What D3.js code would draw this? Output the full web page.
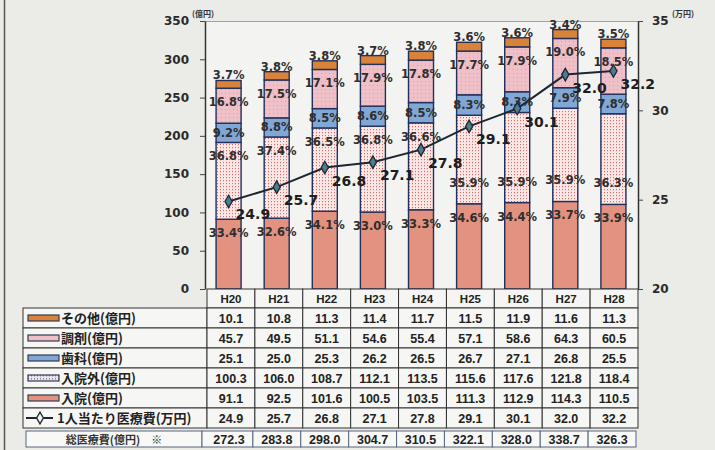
<!DOCTYPE html>
<html><head><meta charset="utf-8">
<script src="https://cdn.jsdelivr.net/npm/d3@7"></script>
<style>
html,body{margin:0;padding:0;background:#ebebe8;}
svg{display:block;}
</style></head>
<body><svg id="c" width="715" height="450"></svg>
<script>
const years = ["H20","H21","H22","H23","H24","H25","H26","H27","H28"];
const nyuin    = [91.1, 92.5, 101.6, 100.5, 103.5, 111.3, 112.9, 114.3, 110.5];
const nyuingai = [100.3, 106.0, 108.7, 112.1, 113.5, 115.6, 117.6, 121.8, 118.4];
const shika    = [25.1, 25.0, 25.3, 26.2, 26.5, 26.7, 27.1, 26.8, 25.5];
const chozai   = [45.7, 49.5, 51.1, 54.6, 55.4, 57.1, 58.6, 64.3, 60.5];
const sonota   = [10.1, 10.8, 11.3, 11.4, 11.7, 11.5, 11.9, 11.6, 11.3];
const perCapita = [24.9, 25.7, 26.8, 27.1, 27.8, 29.1, 30.1, 32.0, 32.2];
const totals   = [272.3, 283.8, 298.0, 304.7, 310.5, 322.1, 328.0, 338.7, 326.3];

const pctNyuin    = ["33.4%","32.6%","34.1%","33.0%","33.3%","34.6%","34.4%","33.7%","33.9%"];
const pctNyuingai = ["36.8%","37.4%","36.5%","36.8%","36.6%","35.9%","35.9%","35.9%","36.3%"];
const pctShika    = ["9.2%","8.8%","8.5%","8.6%","8.5%","8.3%","8.3%","7.9%","7.8%"];
const pctChozai   = ["16.8%","17.5%","17.1%","17.9%","17.8%","17.7%","17.9%","19.0%","18.5%"];
const pctSonota   = ["3.7%","3.8%","3.8%","3.7%","3.8%","3.6%","3.6%","3.4%","3.5%"];

const leftTicks = [0,50,100,150,200,250,300,350];
const rightTicks = [20,25,30,35];

const seriesNames = ["入院(億円)","入院外(億円)","歯科(億円)","調剤(億円)","その他(億円)"];
const lineName = "1人当たり医療費(万円)";
const totalName = "総医療費(億円)　※";
const unitLeft = "(億円)", unitRight = "(万円)";

(function(){
const svg = d3.select("#c");
const NUM = "'DejaVu Sans', Verdana, sans-serif";
const JP = "'Noto Sans CJK JP', sans-serif";
const TBL = "'Liberation Sans', Arial, sans-serif";

const defs = svg.append("defs");
const p1 = defs.append("pattern").attr("id","pGai").attr("width",3).attr("height",3).attr("patternUnits","userSpaceOnUse");
p1.append("rect").attr("width",3).attr("height",3).attr("fill","#fbe8e6");
p1.append("rect").attr("x",1).attr("y",0).attr("width",1).attr("height",1.2).attr("fill","#d96a6a");
const p2 = defs.append("pattern").attr("id","pCho").attr("width",4).attr("height",4).attr("patternUnits","userSpaceOnUse");
p2.append("rect").attr("width",4).attr("height",4).attr("fill","#efc0c8");
p2.append("rect").attr("x",1).attr("y",1).attr("width",1).attr("height",1).attr("fill","#e09aa8");
const p3 = defs.append("pattern").attr("id","pLeg").attr("width",3).attr("height",3).attr("patternUnits","userSpaceOnUse");
p3.append("rect").attr("width",3).attr("height",3).attr("fill","#ece6ee");
p3.append("rect").attr("x",1).attr("y",0).attr("width",1).attr("height",1.5).attr("fill","#8a7a90");

const fills = ["#e2927f","url(#pGai)","#81a7d6","url(#pCho)","#d9823a"];
const legendFills = ["#e2927f","url(#pLeg)","#81a7d6","#efc0c8","#d9823a"];

svg.append("line").attr("x1",4.5).attr("x2",4.5).attr("y1",0).attr("y2",450).attr("stroke","#555").attr("stroke-width",1.5);

const pL = 205, pR = 638, pT = 21, pB = 289;
const x = d3.scaleBand().domain(years).range([207, pR]).paddingInner(0.48).paddingOuter(0.22);
const col = d3.scaleBand().domain(years).range([207, pR]).padding(0);
const y = d3.scaleLinear().domain([0,350]).range([pB, pT]);
const y2 = d3.scaleLinear().domain([20,35]).range([pB, pT]);

svg.append("rect").attr("x",pL).attr("y",pT).attr("width",pR-pL).attr("height",pB-pT).attr("fill","#f3f3f1");
svg.append("line").attr("x1",pL).attr("x2",pR).attr("y1",pT+0.5).attr("y2",pT+0.5).attr("stroke","#8fa3c8").attr("stroke-width",1.2);

const rows = years.map((yr,i)=>({year:yr, a:nyuin[i], b:nyuingai[i], c:shika[i], d:chozai[i], e:sonota[i]}));
const keys = ["a","b","c","d","e"];
const stack = d3.stack().keys(keys)(rows);
stack.forEach((layer,k)=>{
  svg.append("g").selectAll("rect").data(layer).join("rect")
    .attr("x", d=>x(d.data.year)-1.5)
    .attr("width", x.bandwidth())
    .attr("y", d=>y(d[1]))
    .attr("height", d=>y(d[0])-y(d[1]))
    .attr("fill", fills[k])
    .attr("stroke","#22305a").attr("stroke-width",1.4);
});

const axL = svg.append("g").attr("transform",`translate(${pL},0)`)
  .call(d3.axisLeft(y).tickValues(leftTicks).tickSize(5).tickSizeOuter(0).tickPadding(11));
const axR = svg.append("g").attr("transform",`translate(${pR},0)`)
  .call(d3.axisRight(y2).tickValues(rightTicks).tickSize(5).tickSizeOuter(0).tickPadding(9));
[axL,axR].forEach(a=>{
  a.select(".domain").attr("stroke","#333").attr("stroke-width",1.5);
  a.selectAll(".tick line").attr("stroke","#444");
  a.selectAll("text").attr("font-family",NUM).attr("font-weight","bold").attr("font-size",12).attr("fill","#2a2a2a");
});
svg.append("text").attr("x",192).attr("y",17).text(unitLeft).attr("font-family",JP).attr("font-weight","bold").attr("font-size",8).attr("fill","#333");
svg.append("text").attr("x",672).attr("y",17).text(unitRight).attr("font-family",JP).attr("font-weight","bold").attr("font-size",8).attr("fill","#333");

const cx = d=>x(d)-1.5+x.bandwidth()/2;
const pctG = svg.append("g").attr("font-family",NUM).attr("font-weight","bold").attr("font-size",11.5).attr("fill","#2e2e2e").attr("text-anchor","middle");
years.forEach((yr,i)=>{
  const s = stack.map(l=>l[i]);
  pctG.append("text").attr("x",cx(yr)).attr("y",y(s[0][1])+18).text(pctNyuin[i]);
  const lowGai = perCapita[i] >= 29;
  pctG.append("text").attr("x",cx(yr)).attr("y", lowGai ? y(s[1][0])-17 : y(s[1][1])+18).text(pctNyuingai[i]);
  pctG.append("text").attr("x",cx(yr)).attr("y",(y(s[2][0])+y(s[2][1]))/2+4).text(pctShika[i]);
  pctG.append("text").attr("x",cx(yr)).attr("y",y(s[3][1])+18).text(pctChozai[i]);
  pctG.append("text").attr("x",cx(yr)).attr("y",y(s[4][1])-1).text(pctSonota[i]);
});

const pts = years.map((yr,i)=>[cx(yr), y2(perCapita[i])]);
svg.append("path").attr("d", d3.line()(pts)).attr("fill","none").attr("stroke","#1c2733").attr("stroke-width",2);
svg.append("g").selectAll("path").data(pts).join("path")
  .attr("transform",d=>`translate(${d[0]},${d[1]})`)
  .attr("d", d3.symbol(d3.symbolDiamond, 45))
  .attr("fill","#4d7d8c").attr("stroke","#1c2733").attr("stroke-width",1.3);
svg.append("g").selectAll("text").data(pts).join("text")
  .attr("x",d=>d[0]+7).attr("y",d=>d[1]+18)
  .text((d,i)=>perCapita[i].toFixed(1))
  .attr("font-family",NUM).attr("font-weight","bold").attr("font-size",14).attr("fill","#1e1e1e");

const tb = svg.append("g");
const rowTop = 308, rowH = 20;
years.forEach(yr=>{
  tb.append("rect").attr("x",col(yr)).attr("y",pB).attr("width",col.bandwidth()).attr("height",rowTop-pB)
    .attr("fill","#f5f5f3").attr("stroke","#333").attr("stroke-width",1);
  tb.append("text").attr("x",col(yr)+col.bandwidth()/2).attr("y",pB+14).attr("text-anchor","middle")
    .text(yr).attr("font-family",TBL).attr("font-weight","bold").attr("font-size",11.5).attr("fill","#222");
});
const tableRows = [
  {name:seriesNames[4], vals:sonota, sw:4},
  {name:seriesNames[3], vals:chozai, sw:3},
  {name:seriesNames[2], vals:shika, sw:2},
  {name:seriesNames[1], vals:nyuingai, sw:1},
  {name:seriesNames[0], vals:nyuin, sw:0},
  {name:lineName, vals:perCapita, sw:-1}
];
tableRows.forEach((r,ri)=>{
  const ry = rowTop + ri*rowH;
  tb.append("rect").attr("x",23).attr("y",ry).attr("width",207-23).attr("height",rowH)
    .attr("fill","#f6f6f4").attr("stroke","#333").attr("stroke-width",1);
  if (r.sw>=0) {
    tb.append("rect").attr("x",28).attr("y",ry+7).attr("width",31).attr("height",6)
      .attr("fill",legendFills[r.sw]).attr("stroke","#333a55").attr("stroke-width",1.2);
    tb.append("text").attr("x",61).attr("y",ry+15).text(r.name)
      .attr("font-family",JP).attr("font-weight","bold").attr("font-size",13).attr("fill","#222");
  } else {
    tb.append("line").attr("x1",26).attr("x2",53).attr("y1",ry+10).attr("y2",ry+10).attr("stroke","#1c2733").attr("stroke-width",2);
    tb.append("path").attr("transform",`translate(40,${ry+10})`).attr("d",d3.symbol(d3.symbolDiamond,40))
      .attr("fill","#f0f0f0").attr("stroke","#1c2733").attr("stroke-width",1.3);
    tb.append("text").attr("x",57).attr("y",ry+15).text(r.name)
      .attr("font-family",JP).attr("font-weight","bold").attr("font-size",13).attr("fill","#222");
  }
  years.forEach((yr,i)=>{
    tb.append("rect").attr("x",col(yr)).attr("y",ry).attr("width",col.bandwidth()).attr("height",rowH)
      .attr("fill","#f6f6f4").attr("stroke","#333").attr("stroke-width",1);
    tb.append("text").attr("x",col(yr)+col.bandwidth()/2).attr("y",ry+14.5).attr("text-anchor","middle")
      .text(r.vals[i].toFixed(1)).attr("font-family",TBL).attr("font-weight","bold").attr("font-size",12.5).attr("fill","#222");
  });
});
const ty = 431, th = 16;
tb.append("rect").attr("x",26).attr("y",ty).attr("width",202-26).attr("height",th)
  .attr("fill","#f8f8f6").attr("stroke","#59657f").attr("stroke-width",1);
tb.append("text").attr("x",114).attr("y",ty+12.5).attr("text-anchor","middle").text(totalName)
  .attr("font-family",JP).attr("font-weight","bold").attr("font-size",11).attr("fill","#333");
years.forEach((yr,i)=>{
  tb.append("rect").attr("x",col(yr)-(i===0?5:2)).attr("y",ty).attr("width",col.bandwidth()+(i===0?3:0)).attr("height",th)
    .attr("fill","#f8f8f6").attr("stroke","#59657f").attr("stroke-width",1);
  tb.append("text").attr("x",col(yr)+col.bandwidth()/2-2).attr("y",ty+12.5).attr("text-anchor","middle")
    .text(totals[i].toFixed(1)).attr("font-family",TBL).attr("font-weight","bold").attr("font-size",12.5).attr("fill","#222");
});
})();
</script></body></html>
